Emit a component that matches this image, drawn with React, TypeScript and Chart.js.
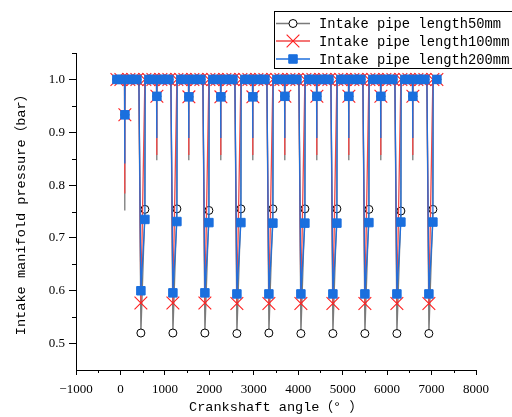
import { useEffect, useRef } from 'react';
import { Chart, registerables } from 'chart.js';

Chart.register(...registerables);

// Crankshaft angle (deg) of every sample
const ANGLES = [
  -80, 10, 92, 96, 100, 104, 190, 280, 370, 415, 460, 550, 555, 640,
  730, 812, 816, 820, 824, 910, 1000, 1090, 1135, 1180, 1270, 1275, 1360,
  1450, 1532, 1536, 1540, 1544, 1630, 1720, 1810, 1855, 1900, 1990, 1995, 2080,
  2170, 2252, 2256, 2260, 2264, 2350, 2440, 2530, 2575, 2620, 2710, 2715, 2800,
  2890, 2972, 2976, 2980, 2984, 3070, 3160, 3250, 3295, 3340, 3430, 3435, 3520,
  3610, 3692, 3696, 3700, 3704, 3790, 3880, 3970, 4015, 4060, 4150, 4155, 4240,
  4330, 4412, 4416, 4420, 4424, 4510, 4600, 4690, 4735, 4780, 4870, 4875, 4960,
  5050, 5132, 5136, 5140, 5144, 5230, 5320, 5410, 5455, 5500, 5590, 5595, 5680,
  5770, 5852, 5856, 5860, 5864, 5950, 6040, 6130, 6175, 6220, 6310, 6315, 6400,
  6490, 6572, 6576, 6580, 6584, 6670, 6760, 6850, 6895, 6940, 7030, 7035, 7120,
];

// Intake manifold pressure (bar), pipe length 50 mm
const P50 = [
  1.0, 1.0, 1.0, 0.752, 0.933, 1.0, 1.0, 1.0, 1.0, 1.0, 0.520, 0.754, 1.0, 1.0,
  1.0, 1.0, 0.847, 0.968, 1.0, 1.0, 1.0, 1.0, 1.0, 0.520, 0.755, 1.0, 1.0,
  1.0, 1.0, 0.847, 0.967, 1.0, 1.0, 1.0, 1.0, 1.0, 0.520, 0.752, 1.0, 1.0,
  1.0, 1.0, 0.847, 0.967, 1.0, 1.0, 1.0, 1.0, 1.0, 0.519, 0.755, 1.0, 1.0,
  1.0, 1.0, 0.847, 0.967, 1.0, 1.0, 1.0, 1.0, 1.0, 0.520, 0.755, 1.0, 1.0,
  1.0, 1.0, 0.847, 0.968, 1.0, 1.0, 1.0, 1.0, 1.0, 0.519, 0.755, 1.0, 1.0,
  1.0, 1.0, 0.847, 0.968, 1.0, 1.0, 1.0, 1.0, 1.0, 0.519, 0.755, 1.0, 1.0,
  1.0, 1.0, 0.847, 0.968, 1.0, 1.0, 1.0, 1.0, 1.0, 0.519, 0.754, 1.0, 1.0,
  1.0, 1.0, 0.847, 0.968, 1.0, 1.0, 1.0, 1.0, 1.0, 0.519, 0.751, 1.0, 1.0,
  1.0, 1.0, 0.847, 0.968, 1.0, 1.0, 1.0, 1.0, 1.0, 0.519, 0.754, 1.0, 1.0,
];

// pipe length 100 mm
const P100 = [
  1.0, 1.0, 1.0, 0.784, 0.933, 1.0, 1.0, 1.0, 1.0, 1.0, 0.577, 1.0, 1.0, 1.0,
  1.0, 1.0, 0.857, 0.968, 1.0, 1.0, 1.0, 1.0, 1.0, 0.577, 1.0, 1.0, 1.0,
  1.0, 1.0, 0.857, 0.967, 1.0, 1.0, 1.0, 1.0, 1.0, 0.577, 1.0, 1.0, 1.0,
  1.0, 1.0, 0.857, 0.967, 1.0, 1.0, 1.0, 1.0, 1.0, 0.576, 1.0, 1.0, 1.0,
  1.0, 1.0, 0.857, 0.967, 1.0, 1.0, 1.0, 1.0, 1.0, 0.576, 1.0, 1.0, 1.0,
  1.0, 1.0, 0.857, 0.968, 1.0, 1.0, 1.0, 1.0, 1.0, 0.576, 1.0, 1.0, 1.0,
  1.0, 1.0, 0.857, 0.968, 1.0, 1.0, 1.0, 1.0, 1.0, 0.576, 1.0, 1.0, 1.0,
  1.0, 1.0, 0.857, 0.968, 1.0, 1.0, 1.0, 1.0, 1.0, 0.576, 1.0, 1.0, 1.0,
  1.0, 1.0, 0.857, 0.968, 1.0, 1.0, 1.0, 1.0, 1.0, 0.576, 1.0, 1.0, 1.0,
  1.0, 1.0, 0.857, 0.968, 1.0, 1.0, 1.0, 1.0, 1.0, 0.576, 1.0, 1.0, 1.0,
];

// pipe length 200 mm
const P200 = [
  1.0, 1.0, 1.0, 0.841, 0.933, 1.0, 1.0, 1.0, 1.0, 1.0, 0.600, 0.735, 1.0, 1.0,
  1.0, 1.0, 0.889, 0.968, 1.0, 1.0, 1.0, 1.0, 1.0, 0.596, 0.731, 1.0, 1.0,
  1.0, 1.0, 0.889, 0.967, 1.0, 1.0, 1.0, 1.0, 1.0, 0.596, 0.729, 1.0, 1.0,
  1.0, 1.0, 0.889, 0.967, 1.0, 1.0, 1.0, 1.0, 1.0, 0.594, 0.729, 1.0, 1.0,
  1.0, 1.0, 0.889, 0.967, 1.0, 1.0, 1.0, 1.0, 1.0, 0.594, 0.728, 1.0, 1.0,
  1.0, 1.0, 0.889, 0.968, 1.0, 1.0, 1.0, 1.0, 1.0, 0.594, 0.728, 1.0, 1.0,
  1.0, 1.0, 0.889, 0.968, 1.0, 1.0, 1.0, 1.0, 1.0, 0.594, 0.728, 1.0, 1.0,
  1.0, 1.0, 0.889, 0.968, 1.0, 1.0, 1.0, 1.0, 1.0, 0.594, 0.729, 1.0, 1.0,
  1.0, 1.0, 0.889, 0.968, 1.0, 1.0, 1.0, 1.0, 1.0, 0.594, 0.730, 1.0, 1.0,
  1.0, 1.0, 0.889, 0.968, 1.0, 1.0, 1.0, 1.0, 1.0, 0.594, 0.730, 1.0, 1.0,
];

const SERIES_LABELS = [
  'Intake pipe length50mm',
  'Intake pipe length100mm',
  'Intake pipe length200mm',
];

const X_TICKS = [-1000, 0, 1000, 2000, 3000, 4000, 5000, 6000, 7000, 8000];
const X_MINOR = [-500, 500, 1500, 2500, 3500, 4500, 5500, 6500, 7500];
const Y_TICKS = [0.5, 0.6, 0.7, 0.8, 0.9, 1.0];
const Y_MINOR = [0.55, 0.65, 0.75, 0.85, 0.95, 1.05];

const X_TITLE = 'Crankshaft angle（° ）';
const Y_TITLE = 'Intake manifold pressure（bar）';

// symbols are drawn on every 90 deg sample, starting at -80 deg
const MARK_ORIGIN = -80;
const MARK_STEP = 90;

const MONO = '"Liberation Mono", "Noto Sans CJK SC", monospace';
const SERIF = '"Liberation Serif", "Times New Roman", serif';

const STYLES = [
  { line: '#7a7a7a', shape: 'circle', radius: 4, fill: '#ffffff', stroke: '#000000', bw: 1 },
  { line: '#f04848', shape: 'crossRot', radius: 9, fill: '#ff1e1e', stroke: '#ff1e1e', bw: 1.1 },
  { line: '#1f6fdc', shape: 'rect', radius: 6, fill: '#1a6fde', stroke: '#1a6fde', bw: 1 },
];

const isMarked = (a: number) => (a - MARK_ORIGIN) % MARK_STEP === 0;

function drawSymbol(ctx: CanvasRenderingContext2D, shape: string, x: number, y: number, s: any) {
  ctx.save();
  ctx.lineWidth = s.bw;
  ctx.strokeStyle = s.stroke;
  ctx.fillStyle = s.fill;
  ctx.beginPath();
  if (shape === 'circle') {
    ctx.arc(x, y, s.radius, 0, Math.PI * 2);
    ctx.fill();
    ctx.stroke();
  } else if (shape === 'crossRot') {
    const d = s.radius * Math.SQRT1_2;
    ctx.moveTo(x - d, y - d);
    ctx.lineTo(x + d, y + d);
    ctx.moveTo(x + d, y - d);
    ctx.lineTo(x - d, y + d);
    ctx.stroke();
  } else {
    const h = s.radius * Math.SQRT1_2;
    ctx.rect(x - h, y - h, 2 * h, 2 * h);
    ctx.fill();
    ctx.stroke();
  }
  ctx.restore();
}

const extrasPlugin = {
  id: 'extras',
  afterDraw(chart: any) {
    const { ctx } = chart;
    const xs = chart.scales.x;
    const ys = chart.scales.y;
    ctx.save();
    ctx.strokeStyle = '#000';
    ctx.lineWidth = 1;
    ctx.beginPath();
    X_MINOR.forEach((v) => {
      const px = Math.round(xs.getPixelForValue(v)) + 0.5;
      ctx.moveTo(px, xs.top);
      ctx.lineTo(px, xs.top + 3);
    });
    Y_MINOR.forEach((v) => {
      const py = Math.round(ys.getPixelForValue(v)) + 0.5;
      ctx.moveTo(ys.right, py);
      ctx.lineTo(ys.right - 4, py);
    });
    ctx.stroke();

    // legend
    const bx = 274.5, by = 11.5, bw = 260, bh = 57;
    ctx.fillStyle = '#fff';
    ctx.fillRect(bx, by, bw, bh);
    ctx.strokeStyle = '#000';
    ctx.lineWidth = 1;
    ctx.strokeRect(bx, by, bw, bh);
    const rows = [23.5, 41, 59];
    SERIES_LABELS.forEach((label, i) => {
      const s = STYLES[i];
      const ry = rows[i];
      ctx.strokeStyle = s.line;
      ctx.lineWidth = 1.4;
      ctx.beginPath();
      ctx.moveTo(276, ry);
      ctx.lineTo(310, ry);
      ctx.stroke();
      drawSymbol(ctx, s.shape, 293, ry, s);
      ctx.fillStyle = '#000';
      ctx.font = `13.8px ${MONO}`;
      ctx.textBaseline = 'middle';
      ctx.textAlign = 'left';
      ctx.fillText(label, 319, ry + 1);
    });
    ctx.restore();
  },
};

export default function App() {
  const ref = useRef<HTMLCanvasElement>(null);

  useEffect(() => {
    if (!ref.current) return;
    const series = [P50, P100, P200];
    const datasets = series.map((vals, i) => {
      const s = STYLES[i];
      return {
        label: SERIES_LABELS[i],
        data: ANGLES.map((a, j) => ({ x: a, y: vals[j] })),
        borderColor: s.line,
        borderWidth: 1.3,
        tension: 0,
        pointStyle: s.shape,
        pointRadius: (c: any) => (isMarked(ANGLES[c.dataIndex]) ? s.radius : 0),
        pointHoverRadius: (c: any) => (isMarked(ANGLES[c.dataIndex]) ? s.radius : 0),
        pointBackgroundColor: s.fill,
        pointBorderColor: s.stroke,
        pointBorderWidth: s.bw,
        order: 3 - i,
      };
    });

    const chart = new Chart(ref.current, {
      type: 'line',
      data: { datasets: datasets as any },
      options: {
        animation: false,
        responsive: false,
        devicePixelRatio: 1,
        layout: { padding: { top: 53, right: 36, left: 0, bottom: 0 } },
        plugins: { legend: { display: false }, tooltip: { enabled: false } },
        scales: {
          x: {
            type: 'linear',
            min: -1000,
            max: 8000,
            afterBuildTicks: (s: any) => {
              s.ticks = X_TICKS.map((v) => ({ value: v }));
            },
            afterFit: (s: any) => {
              s.height = 47;
            },
            ticks: {
              color: '#000',
              padding: 7,
              maxRotation: 0,
              autoSkip: false,
              font: { family: SERIF, size: 13 },
              callback: (v: any) => (Number(v) < 0 ? '−' + Math.abs(Number(v)) : String(v)),
            },
            grid: { drawOnChartArea: false, drawTicks: true, tickLength: 5, color: '#000', lineWidth: 1 },
            border: { display: true, color: '#000', width: 1 },
            title: {
              display: true,
              text: X_TITLE,
              color: '#000',
              font: { family: MONO, size: 13.6 },
              padding: { top: 0, bottom: 1 },
            },
          },
          y: {
            type: 'linear',
            min: 0.45,
            max: 1.05,
            afterBuildTicks: (s: any) => {
              s.ticks = Y_TICKS.map((v) => ({ value: v }));
            },
            afterFit: (s: any) => {
              s.width = 76;
            },
            ticks: {
              color: '#000',
              padding: 4,
              autoSkip: false,
              font: { family: SERIF, size: 13 },
              callback: (v: any) => Number(v).toFixed(1),
            },
            grid: { drawOnChartArea: false, drawTicks: true, tickLength: 7, color: '#000', lineWidth: 1 },
            border: { display: true, color: '#000', width: 1 },
            title: {
              display: true,
              text: Y_TITLE,
              color: '#000',
              font: { family: MONO, size: 13.6 },
              padding: { top: 13, bottom: 0 },
            },
          },
        },
      },
      plugins: [extrasPlugin],
    });
    return () => chart.destroy();
  }, []);

  return (
    <div style={{ position: 'absolute', left: 0, top: 0, width: 512, height: 417, background: '#fff' }}>
      <canvas ref={ref} width={512} height={417} style={{ width: 512, height: 417, display: 'block' }} />
    </div>
  );
}
